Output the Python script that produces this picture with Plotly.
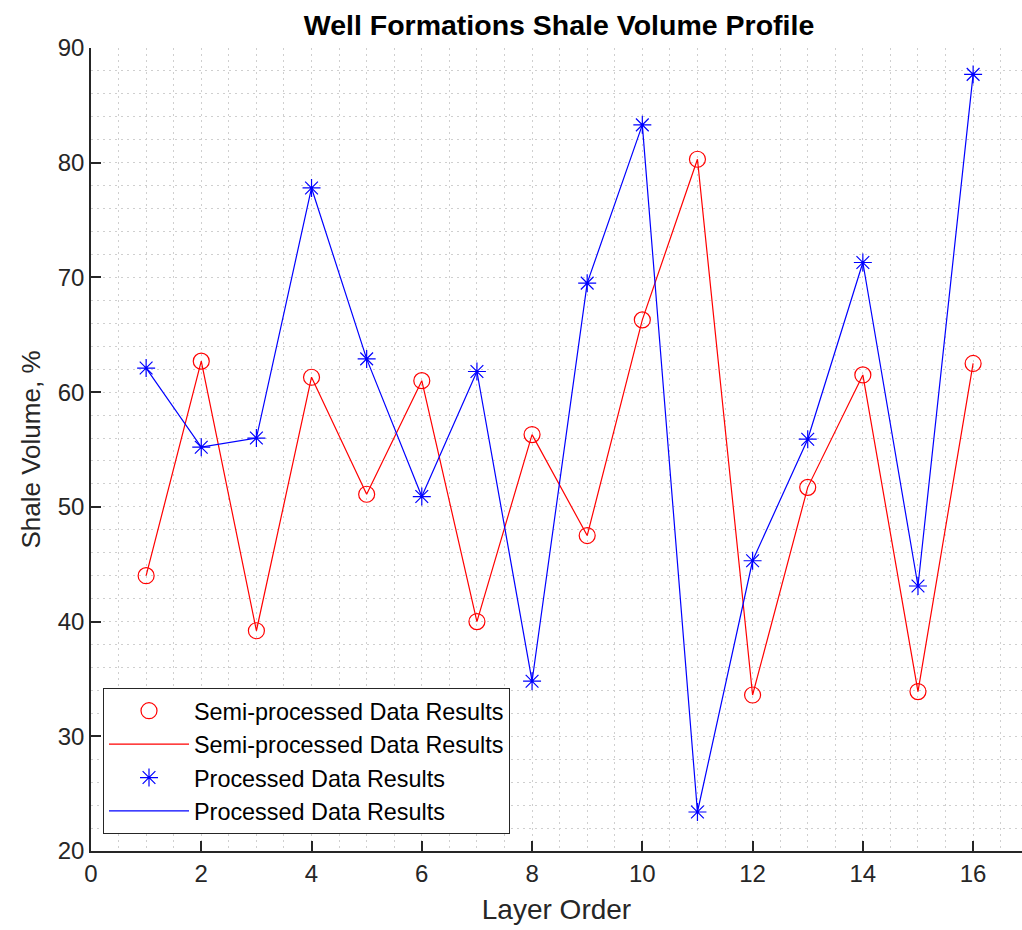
import plotly.graph_objects as go

layers = list(range(1, 17))
semi_processed = [44.0, 62.7, 39.2, 61.3, 51.1, 61.0, 40.0, 56.3, 47.5, 66.3, 80.3, 33.6, 51.7, 61.5, 33.9, 62.5]
processed = [62.1, 55.2, 56.0, 77.8, 62.9, 50.9, 61.8, 34.8, 69.5, 83.3, 23.4, 45.3, 55.9, 71.3, 43.1, 87.7]
x_ticks = [0, 2, 4, 6, 8, 10, 12, 14, 16]
y_ticks = [20, 30, 40, 50, 60, 70, 80, 90]

RED = "#FF0000"
BLUE = "#0000FF"
AX = "#262626"
FONT = "Liberation Sans, Arial, sans-serif"

fig = go.Figure()
fig.add_trace(go.Scatter(x=layers, y=semi_processed, mode="markers",
                         name="Semi-processed Data Results",
                         marker=dict(symbol="circle-open", size=16, color=RED, line=dict(width=1.2, color=RED))))
fig.add_trace(go.Scatter(x=layers, y=semi_processed, mode="lines",
                         name="Semi-processed Data Results",
                         line=dict(color=RED, width=1.2)))
fig.add_trace(go.Scatter(x=layers, y=processed, mode="markers",
                         name="Processed Data Results",
                         marker=dict(symbol="asterisk-open", size=15, color=BLUE, line=dict(width=1.2, color=BLUE))))
fig.add_trace(go.Scatter(x=layers, y=processed, mode="lines",
                         name="Processed Data Results",
                         line=dict(color=BLUE, width=1.2)))

grid_col = "#cfcfcf"
fig.update_layout(
    width=1022, height=930,
    margin=dict(l=91, r=0, t=48, b=79),
    paper_bgcolor="white", plot_bgcolor="white",
    font=dict(family=FONT, color=AX, size=24),
    title=dict(text="<b>Well Formations Shale Volume Profile</b>", x=559/1022, xref="container",
               xanchor="center", y=1 - 25/930, yref="container", yanchor="middle",
               font=dict(size=28.5, color="black", family=FONT)),
    showlegend=True,
    legend=dict(x=(103-91)/931, y=(851-834)/803, xanchor="left", yanchor="bottom",
                bgcolor="white", bordercolor=AX, borderwidth=1,
                font=dict(size=23.4, color="black", family=FONT),
                itemwidth=80, traceorder="normal", tracegroupgap=0),
    xaxis=dict(range=[0, (1022-90.7)/55.15], tickmode="array", tickvals=x_ticks,
               ticks="inside", ticklen=10, tickwidth=1.5, tickcolor=AX,
               showline=True, linecolor=AX, linewidth=1.5, mirror=False,
               showgrid=True, gridcolor=grid_col, griddash="2px,4px", gridwidth=1,
               minor=dict(dtick=0.5, showgrid=True, gridcolor=grid_col, griddash="2px,4px", gridwidth=1),
               zeroline=False, tickfont=dict(size=24, color=AX),
               title=dict(text="Layer Order", font=dict(size=28, color=AX), standoff=14)),
    yaxis=dict(range=[20, 90], tickmode="array", tickvals=y_ticks,
               ticks="inside", ticklen=10, tickwidth=1.5, tickcolor=AX,
               showline=True, linecolor=AX, linewidth=1.5, mirror=False,
               showgrid=True, gridcolor=grid_col, griddash="2px,4px", gridwidth=1,
               minor=dict(dtick=2, showgrid=True, gridcolor=grid_col, griddash="2px,4px", gridwidth=1),
               zeroline=False, tickfont=dict(size=24, color=AX),
               title=dict(text="Shale Volume, %", font=dict(size=26, color=AX), standoff=10)),
)

fig.write_html("out.html")
